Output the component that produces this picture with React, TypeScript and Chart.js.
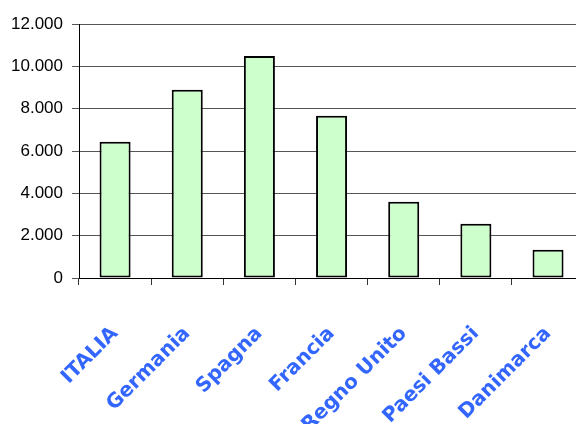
import React, { useEffect, useRef } from "react";
import { Chart, registerables } from "chart.js";

Chart.register(...registerables);

const categories = ["ITALIA", "Germania", "Spagna", "Francia", "Regno Unito", "Paesi Bassi", "Danimarca"];
const values = [6440, 8890, 10490, 7660, 3600, 2560, 1330];
const yMin = 0;
const yMax = 12000;
const yStep = 2000;

function fmt(v: number): string {
  return String(Math.round(v)).replace(/\B(?=(\d{3})+(?!\d))/g, ".");
}

export default function App() {
  const ref = useRef<HTMLCanvasElement | null>(null);
  useEffect(() => {
    if (!ref.current) return;
    const chart = new Chart(ref.current, {
      type: "bar",
      data: {
        labels: categories,
        datasets: [
          {
            data: values,
            backgroundColor: "#CCFFCC",
            borderColor: "#000000",
            borderWidth: 2,
            borderSkipped: false,
            categoryPercentage: 1,
            barPercentage: 0.43,
          },
        ],
      },
      options: {
        animation: false,
        responsive: false,
        devicePixelRatio: 1,
        layout: { padding: { top: 24, right: 0, left: 0, bottom: 0 } },
        plugins: { legend: { display: false }, tooltip: { enabled: false } },
        scales: {
          x: {
            offset: true,
            grid: {
              offset: true,
              drawOnChartArea: false,
              drawTicks: true,
              tickLength: 7,
              color: "#333333",
            },
            border: { color: "#000000", width: 1 },
            ticks: {
              autoSkip: false,
              minRotation: 45,
              maxRotation: 45,
              padding: 37,
              color: "#3366FF",
              font: { family: "'DejaVu Sans', sans-serif", size: 20, weight: "bold" },
            },
            afterFit: (s: any) => {
              s.height = 146;
            },
          },
          y: {
            min: yMin,
            max: yMax,
            grid: { color: "#555555", tickLength: 7, lineWidth: 1 },
            border: { color: "#000000", width: 1 },
            ticks: {
              stepSize: yStep,
              padding: 9,
              color: "#000000",
              font: { family: "'Liberation Sans', sans-serif", size: 17 },
              callback: (v: any) => fmt(Number(v)),
            },
            afterFit: (s: any) => {
              s.width = 79;
            },
          },
        },
      },
    });
    return () => chart.destroy();
  }, []);
  return (
    <div style={{ position: "fixed", left: 0, top: 0, width: 576, height: 424, overflow: "hidden", background: "#fff" }}>
      <canvas ref={ref} width={602} height={424} style={{ width: 602, height: 424, display: "block" }} />
    </div>
  );
}
